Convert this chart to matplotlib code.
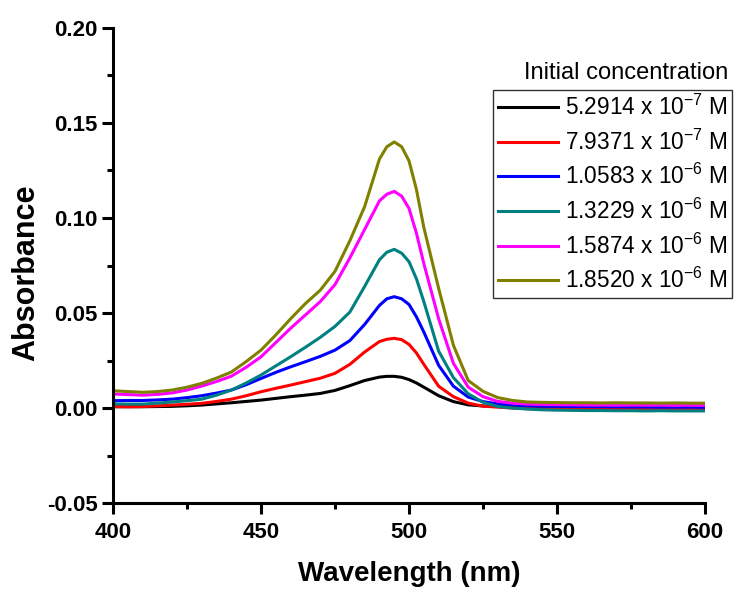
import matplotlib
matplotlib.use("Agg")
import matplotlib.pyplot as plt
from matplotlib.ticker import MultipleLocator, FormatStrFormatter

plt.rcParams['font.family'] = ['Liberation Sans', 'DejaVu Sans']
plt.rcParams['mathtext.fontset'] = 'custom'
plt.rcParams['mathtext.rm'] = 'Liberation Sans'
plt.rcParams['mathtext.it'] = 'Liberation Sans:italic'
plt.rcParams['axes.unicode_minus'] = False

# wavelength grid (nm)
wavelength = [400, 405, 410, 415, 420, 425, 430, 435, 440, 445, 450, 455, 460, 465,
              470, 475, 480, 485, 490, 492.5, 495, 497.5, 500, 502.5, 505, 510, 515,
              520, 525, 530, 535, 540, 545, 550, 555, 560, 565, 570, 575, 580, 585,
              590, 595, 600]

abs_black = [0.0007, 0.0007, 0.0007, 0.0008, 0.0009, 0.0012, 0.0016, 0.0022, 0.0028, 0.0035,
             0.0042, 0.0051, 0.0060, 0.0068, 0.0077, 0.0093, 0.0118, 0.0145, 0.0163, 0.0167,
             0.0167, 0.0162, 0.0150, 0.0132, 0.0110, 0.0065, 0.0034, 0.0017, 0.0011, 0.0009,
             0.0008, 0.0008, 0.0007, 0.0008, 0.0008, 0.0007, 0.0008, 0.0007, 0.0008, 0.0007,
             0.0008, 0.0007, 0.0008, 0.0007]

abs_red = [0.0008, 0.0007, 0.0008, 0.0012, 0.0016, 0.0020, 0.0025, 0.0035, 0.0047, 0.0065,
           0.0086, 0.0104, 0.0121, 0.0139, 0.0157, 0.0183, 0.0230, 0.0295, 0.0350, 0.0362,
           0.0367, 0.0360, 0.0335, 0.0290, 0.0230, 0.0115, 0.0060, 0.0026, 0.0010, 0.0005,
           0.0000, -0.0003, -0.0004, -0.0005, -0.0004, -0.0005, -0.0006, -0.0005, -0.0006,
           -0.0005, -0.0006, -0.0005, -0.0006, -0.0005]

abs_blue = [0.0039, 0.0040, 0.0040, 0.0043, 0.0047, 0.0055, 0.0065, 0.0079, 0.0095, 0.0123,
            0.0156, 0.0188, 0.0217, 0.0244, 0.0272, 0.0305, 0.0355, 0.0440, 0.0540, 0.0575,
            0.0586, 0.0575, 0.0545, 0.0480, 0.0400, 0.0225, 0.0115, 0.0058, 0.0034, 0.0022,
            0.0017, 0.0012, 0.0010, 0.0009, 0.0008, 0.0008, 0.0007, 0.0007, 0.0006, 0.0006,
            0.0005, 0.0005, 0.0005, 0.0004]

abs_teal = [0.0022, 0.0021, 0.0021, 0.0026, 0.0032, 0.0039, 0.0047, 0.0068, 0.0095, 0.0132,
            0.0174, 0.0222, 0.0270, 0.0320, 0.0372, 0.0430, 0.0505, 0.0640, 0.0780, 0.0820,
            0.0835, 0.0815, 0.0770, 0.0680, 0.0560, 0.0300, 0.0160, 0.0075, 0.0030, 0.0008,
            0.0000, -0.0005, -0.0009, -0.0011, -0.0012, -0.0013, -0.0013, -0.0014, -0.0014,
            -0.0015, -0.0014, -0.0015, -0.0015, -0.0015]

abs_magenta = [0.0074, 0.0071, 0.0068, 0.0072, 0.0080, 0.0095, 0.0116, 0.0140, 0.0168, 0.0215,
               0.0270, 0.0345, 0.0420, 0.0490, 0.0560, 0.0650, 0.0790, 0.0940, 0.1090, 0.1125,
               0.1140, 0.1115, 0.1050, 0.0920, 0.0760, 0.0470, 0.0235, 0.0110, 0.0060, 0.0035,
               0.0026, 0.0021, 0.0019, 0.0018, 0.0017, 0.0016, 0.0016, 0.0015, 0.0016, 0.0015,
               0.0015, 0.0014, 0.0015, 0.0014]

abs_olive = [0.0091, 0.0087, 0.0083, 0.0087, 0.0095, 0.0110, 0.0130, 0.0158, 0.0190, 0.0245,
             0.0305, 0.0385, 0.0470, 0.0550, 0.0620, 0.0720, 0.0880, 0.1060, 0.1310, 0.1375,
             0.1400, 0.1375, 0.1300, 0.1150, 0.0950, 0.0630, 0.0330, 0.0145, 0.0088, 0.0055,
             0.0040, 0.0032, 0.0030, 0.0029, 0.0028, 0.0028, 0.0027, 0.0028, 0.0027, 0.0027,
             0.0026, 0.0027, 0.0026, 0.0026]

labels = [r"5.2914 x 10$^{-7}$ M", r"7.9371 x 10$^{-7}$ M", r"1.0583 x 10$^{-6}$ M",
          r"1.3229 x 10$^{-6}$ M", r"1.5874 x 10$^{-6}$ M", r"1.8520 x 10$^{-6}$ M"]
colors = ["#000000", "#ff0000", "#0000ff", "#008080", "#ff00ff", "#808000"]
series = [abs_black, abs_red, abs_blue, abs_teal, abs_magenta, abs_olive]

fig = plt.figure(figsize=(7.39, 5.94), dpi=100)
ax = fig.add_axes([0.153, 0.153, 0.801, 0.800])

for y, c, lab in zip(series, colors, labels):
    ax.plot(wavelength, y, color=c, lw=2.2, label=lab)

ax.set_xlim(400, 600)
ax.set_ylim(-0.05, 0.20)
ax.xaxis.set_major_locator(MultipleLocator(50))
ax.xaxis.set_minor_locator(MultipleLocator(25))
ax.yaxis.set_major_locator(MultipleLocator(0.05))
ax.yaxis.set_minor_locator(MultipleLocator(0.025))
ax.yaxis.set_major_formatter(FormatStrFormatter('%.2f'))

for side in ['top', 'right']:
    ax.spines[side].set_visible(False)
for side in ['left', 'bottom']:
    ax.spines[side].set_linewidth(2.2)

ax.tick_params(which='major', direction='out', length=8, width=2.2, labelsize=16)
ax.tick_params(which='minor', direction='out', length=4.5, width=2.2)
ax.tick_params(axis='x', which='major', pad=5.5)
ax.tick_params(axis='y', which='major', pad=3)
for t in ax.get_xticklabels() + ax.get_yticklabels():
    t.set_fontweight('bold')

ax.set_xlabel("Wavelength (nm)", fontsize=20, fontweight='bold', labelpad=13)
ax.set_ylabel("Absorbance", fontsize=22, fontweight='bold', labelpad=4)
ax.yaxis.label.set_y(0.484)

leg = ax.legend(loc='upper left', bbox_to_anchor=(493 / 739, 1 - 90 / 594),
                bbox_transform=fig.transFigure, fontsize=16.3, frameon=True, fancybox=False,
                handlelength=2.65, handletextpad=0.32, labelspacing=0.42, borderpad=0.2,
                borderaxespad=0)
leg.get_frame().set_edgecolor('black')
leg.get_frame().set_linewidth(1.0)

fig.text(626 / 739, 1 - 73 / 594, "Initial concentration", fontsize=17,
         ha='center', va='center')

fig.savefig("out.png", dpi=100)
